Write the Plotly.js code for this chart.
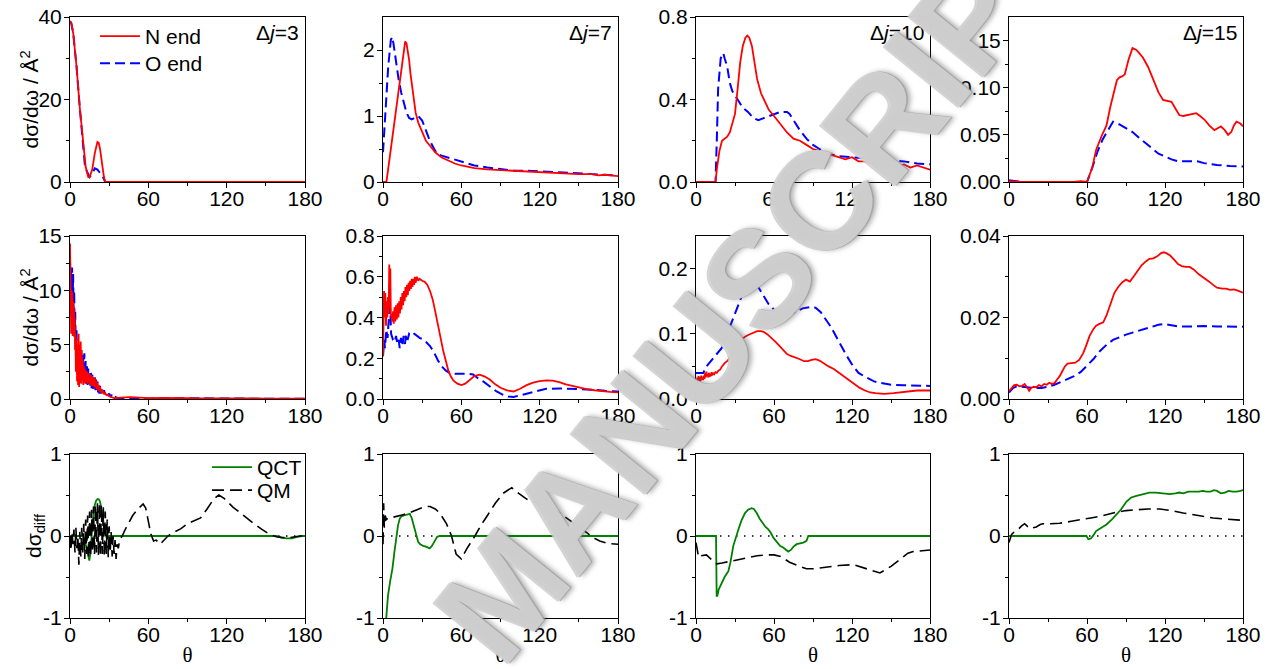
<!DOCTYPE html>
<html><head><meta charset="utf-8">
<script src="https://cdn.plot.ly/plotly-3.0.1.min.js"></script>
<style>body{margin:0;background:#fff}#chart{width:1274px;height:669px}</style>
</head><body><div id="chart"></div>
<script>
// ---------------- DATA ([theta, value] pairs) ----------------
// Row 1: total DCS, N end (red) and O end (blue)
const dj3_top_N = [[0,39],[1,38.5],[2.5,36],[5,28],[7.5,18],[10,9],[12,3.7],[14,1.2],[15,1.2],[17,3],[19,7],[21,9.7],[22,9.5],[23,8],[24,5.5],[25,3],[26,1.2],[27,0],[30,0],[60,0],[90,0],[120,0],[150,0],[180,0]];
const dj3_top_O = [[0,39],[1,38.5],[2.5,36],[5,28],[7.5,18],[10,8.5],[11.5,3.8],[13,2.5],[15,1.2],[17,2],[19,3.3],[21,3],[23,2.3],[25,1.4],[27,0],[30,0],[60,0],[90,0],[120,0],[150,0],[180,0]];
const dj7_top_N = [[0,0],[2.6,0],[5,0.35],[8,0.8],[11,1.25],[14,1.75],[16,2.05],[17,2.13],[18,2.1],[19,2.0],[20,1.85],[21,1.65],[23,1.3],[25,1.05],[27,0.9],[30,0.75],[33,0.62],[36,0.55],[40,0.45],[45,0.37],[50,0.32],[55,0.28],[60,0.25],[70,0.21],[80,0.19],[90,0.18],[100,0.16],[110,0.15],[120,0.15],[130,0.13],[140,0.13],[150,0.12],[160,0.12],[165,0.1],[170,0.11],[175,0.1],[180,0.09]];
const dj7_top_O = [[0,0.45],[2,1.1],[4,1.75],[6,2.15],[7,2.2],[8,2.1],[10,1.8],[12,1.55],[14,1.35],[16,1.2],[18,1.05],[20,0.97],[22,0.95],[24,0.97],[27,1.0],[30,0.93],[33,0.78],[36,0.62],[40,0.47],[42,0.42],[45,0.4],[50,0.37],[60,0.3],[70,0.25],[80,0.22],[90,0.2],[100,0.17],[110,0.17],[120,0.16],[130,0.15],[140,0.14],[150,0.13],[160,0.13],[170,0.12],[175,0.11],[180,0.1]];
const dj10_top_N = [[0,0],[15,0],[16,0.06],[18,0.15],[20,0.2],[22,0.21],[24,0.22],[26,0.24],[28,0.28],[30,0.33],[32,0.45],[34,0.58],[36,0.66],[38,0.7],[39.5,0.71],[41,0.7],[43,0.66],[45,0.58],[47,0.5],[50,0.43],[53,0.39],[56,0.35],[60,0.32],[65,0.28],[70,0.24],[75,0.21],[80,0.2],[85,0.18],[90,0.16],[95,0.15],[100,0.14],[105,0.13],[110,0.12],[115,0.11],[120,0.12],[125,0.1],[130,0.1],[135,0.09],[140,0.09],[145,0.085],[150,0.08],[155,0.075],[160,0.085],[165,0.07],[170,0.08],[175,0.07],[180,0.06]];
const dj10_top_O = [[0,0],[15,0],[16,0.2],[17,0.45],[19,0.6],[21,0.625],[22,0.6],[24,0.56],[26,0.48],[28,0.44],[30,0.42],[33,0.39],[36,0.36],[40,0.34],[44,0.31],[48,0.3],[52,0.31],[56,0.32],[60,0.33],[65,0.34],[70,0.34],[72,0.33],[75,0.3],[80,0.25],[85,0.21],[90,0.18],[95,0.16],[100,0.14],[110,0.125],[120,0.12],[130,0.115],[140,0.11],[150,0.105],[160,0.1],[170,0.09],[180,0.086]];
const dj15_top_N = [[0,0.001],[10,0],[20,0],[30,0],[40,0],[50,0],[55,0.001],[60,0],[64,0.015],[67,0.034],[71,0.048],[75,0.06],[78,0.08],[81,0.098],[83,0.108],[85,0.111],[87,0.112],[89,0.114],[92,0.13],[95,0.142],[98,0.14],[100,0.137],[103,0.132],[107,0.122],[111,0.108],[115,0.095],[118.5,0.087],[122,0.086],[125,0.085],[128,0.078],[131,0.071],[134,0.07],[138,0.071],[141,0.072],[144,0.073],[147,0.07],[150.5,0.066],[154,0.06],[158,0.055],[160.5,0.057],[163,0.059],[166,0.055],[168.5,0.05],[171,0.053],[173,0.06],[175,0.064],[178,0.062],[180,0.059]];
const dj15_top_O = [[0,0.0018],[5,0.001],[10,0],[20,0],[40,0],[60,0],[64,0.015],[68,0.032],[72,0.045],[76,0.055],[80,0.064],[85,0.061],[90,0.057],[95,0.053],[100,0.047],[105,0.041],[110,0.035],[115,0.03],[120,0.027],[125,0.024],[130,0.022],[140,0.022],[145,0.022],[150,0.02],[160,0.018],[170,0.017],[180,0.0165]];

// Row 2: DCS, N end (red) and O end (blue)
const dj3_mid_N = [[0,14.3],[0.3,10],[0.6,9.5],[0.9,6],[1.2,10],[1.5,7],[1.8,9.8],[2.1,5.8],[2.4,9],[2.7,6.5],[3,8.5],[3.3,5.7],[3.6,7.5],[3.9,4.5],[4.2,6],[4.5,2.5],[5,5.5],[5.4,1.6],[5.8,5],[6.2,1.3],[6.6,6],[7,1.1],[7.4,5],[7.8,1.5],[8.2,5.3],[8.6,1.4],[9,4.5],[9.4,1.7],[9.8,3.6],[10.2,1.3],[10.6,3],[11,1.5],[11.4,2.8],[11.8,1.4],[12.2,2.6],[12.6,1.6],[13,2.5],[13.5,1.4],[14,2.4],[14.5,1.5],[15,2.3],[15.5,1.3],[16,2.2],[16.5,1.2],[17,2.1],[17.5,1.2],[18,2.0],[18.5,1.1],[19,1.9],[19.5,1.0],[20,1.7],[20.5,0.9],[21,1.5],[21.5,0.8],[22,1.3],[22.5,0.7],[23,1.1],[23.5,0.6],[24,0.9],[24.5,0.5],[25,0.8],[26,0.5],[27,0.55],[28,0.35],[29,0.4],[30,0.25],[31,0.2],[32,0.15],[34,0.08],[36,0.1],[40,0.15],[45,0.18],[50,0.15],[60,0.08],[70,0.1],[80,0.12],[90,0.08],[100,0.05],[110,0.06],[120,0.08],[130,0.08],[140,0.05],[150,0.04],[160,0.05],[170,0.04],[180,0.04]];
const dj3_mid_O = [[0,13],[0.4,10.5],[0.8,12],[1.2,9],[1.6,12.1],[2,8.5],[2.4,11.5],[2.8,7.5],[3.2,10],[3.6,6],[4,8],[4.5,4],[5,6.5],[5.5,2.8],[6,5],[6.5,2.2],[7,4.5],[7.5,2],[8,4],[8.5,1.8],[9,4],[9.5,1.7],[10,4.1],[10.5,1.6],[11,4.2],[11.5,1.6],[12,3.5],[12.5,1.4],[13,3],[13.5,1.3],[14,2.8],[14.5,1.2],[15,2.6],[15.5,1.1],[16,2.5],[16.5,1.0],[17,2.3],[17.5,0.9],[18,2.1],[18.5,0.9],[19,2.0],[19.5,0.8],[20,1.8],[20.5,0.7],[21,1.6],[21.5,0.6],[22,1.4],[22.5,0.5],[23,1.2],[23.5,0.5],[24,1.0],[25,0.6],[26,0.8],[27,0.4],[28,0.6],[29,0.3],[30,0.5],[31,0.2],[32,0.4],[33,0.15],[34,0.25],[36,0.1],[40,0.05],[50,0.08],[60,0.05],[80,0.08],[100,0.04],[120,0.05],[140,0.03],[160,0.03],[180,0.02]];
const dj7_mid_N = [[0,0.21],[0.5,0.45],[0.8,0.53],[1.3,0.4],[1.8,0.52],[2.3,0.36],[2.8,0.48],[3.3,0.4],[3.8,0.5],[4.3,0.42],[4.8,0.66],[5.2,0.45],[5.6,0.64],[6,0.42],[6.6,0.4],[7.2,0.38],[7.7,0.43],[8.2,0.37],[8.8,0.45],[9.4,0.38],[10,0.46],[10.6,0.39],[11.2,0.47],[11.8,0.4],[12.4,0.48],[13,0.42],[13.6,0.5],[14.2,0.44],[14.8,0.52],[15.4,0.46],[16,0.53],[16.6,0.48],[17.2,0.55],[17.8,0.5],[18.4,0.56],[19,0.51],[19.6,0.57],[20.2,0.53],[20.8,0.58],[21.4,0.54],[22,0.59],[22.6,0.55],[23.2,0.59],[23.8,0.56],[24.4,0.6],[25,0.57],[26,0.6],[27,0.58],[28,0.59],[30,0.58],[32,0.575],[34,0.56],[36,0.53],[38,0.49],[40,0.43],[42,0.36],[44,0.3],[46,0.24],[48,0.19],[50,0.14],[52,0.11],[54,0.09],[57,0.075],[60,0.068],[63,0.075],[66,0.093],[70,0.112],[74,0.119],[78,0.11],[82,0.094],[86,0.072],[90,0.055],[95,0.042],[100,0.037],[105,0.05],[110,0.068],[115,0.08],[120,0.088],[125,0.091],[130,0.09],[135,0.083],[140,0.072],[145,0.064],[150,0.056],[156,0.049],[162,0.043],[168,0.038],[174,0.035],[180,0.033]];
const dj7_mid_O = [[0,0.21],[1,0.29],[1.5,0.25],[2.5,0.34],[3.5,0.3],[5,0.45],[5.6,0.44],[6.2,0.32],[7.7,0.29],[9,0.28],[10,0.31],[11,0.27],[12,0.29],[12.8,0.25],[13.8,0.3],[14.8,0.26],[15.8,0.31],[16.8,0.27],[17.8,0.32],[18.8,0.29],[20,0.32],[22,0.31],[24,0.32],[26,0.31],[28,0.3],[30,0.295],[33,0.28],[36,0.26],[39,0.23],[42,0.19],[45,0.16],[48,0.14],[51,0.128],[55,0.124],[60,0.124],[65,0.124],[69,0.12],[73,0.1],[77,0.085],[82,0.06],[87,0.037],[92,0.02],[96,0.012],[100,0.01],[105,0.018],[110,0.026],[115,0.035],[120,0.043],[125,0.05],[135,0.052],[145,0.051],[151,0.05],[160,0.046],[170,0.04],[180,0.037]];
const dj10_mid_N = [[0,0.03],[0.5,0.02],[1,0.033],[1.5,0.026],[2,0.035],[2.5,0.028],[3,0.033],[3.5,0.027],[4,0.036],[4.5,0.03],[5,0.034],[5.5,0.029],[6,0.036],[6.5,0.031],[7,0.04],[7.5,0.033],[8,0.042],[8.5,0.035],[9,0.038],[9.5,0.033],[10,0.04],[10.5,0.034],[11,0.039],[11.5,0.035],[12,0.041],[12.5,0.036],[13,0.04],[14,0.038],[15,0.041],[16,0.04],[17,0.043],[18.5,0.045],[20,0.05],[22,0.055],[24,0.058],[26,0.063],[28,0.068],[30,0.075],[32,0.082],[34,0.088],[36,0.093],[38,0.096],[41,0.099],[44,0.102],[47,0.104],[50,0.104],[52,0.103],[55,0.099],[58,0.094],[61,0.088],[64,0.082],[67,0.075],[70,0.069],[73,0.066],[76,0.064],[80,0.061],[83,0.058],[86,0.058],[89,0.06],[92,0.061],[95,0.059],[98,0.055],[102,0.05],[106,0.046],[110,0.04],[114,0.034],[118,0.028],[122,0.022],[126,0.017],[130,0.013],[134,0.01],[138,0.009],[145,0.008],[152,0.009],[160,0.011],[170,0.013],[180,0.013]];
const dj10_mid_O = [[0,0.04],[3,0.04],[5.6,0.04],[8,0.05],[10,0.055],[13,0.062],[16,0.07],[19.7,0.078],[22,0.09],[25,0.105],[28,0.122],[31,0.137],[34,0.152],[37,0.167],[41.5,0.182],[43,0.184],[46,0.178],[49,0.168],[52,0.158],[56,0.145],[59.5,0.138],[63,0.133],[67,0.13],[72,0.13],[77,0.134],[82,0.139],[88,0.141],[92,0.14],[96,0.133],[100,0.122],[104,0.11],[108,0.095],[112,0.08],[116,0.066],[120,0.053],[125,0.04],[131,0.033],[137,0.027],[141.5,0.025],[150,0.022],[160,0.021],[170,0.02],[180,0.02]];
const dj15_mid_N = [[0,0.0019],[2,0.0027],[4,0.0034],[6,0.0035],[8,0.0031],[10,0.0032],[12,0.0037],[14,0.0028],[15.5,0.002],[17,0.0027],[19,0.003],[21,0.0029],[23,0.0034],[25,0.0031],[27,0.0037],[29,0.0035],[31,0.004],[33,0.0037],[35,0.0039],[37,0.0048],[39,0.0056],[41,0.0068],[43,0.008],[45,0.0087],[48,0.0088],[51,0.0089],[54,0.0096],[57,0.0112],[59,0.0128],[62,0.0155],[65,0.0172],[67,0.018],[70,0.0185],[72.5,0.0188],[75,0.0205],[78,0.0232],[81,0.026],[84,0.0275],[87,0.0286],[90,0.0293],[93,0.0288],[96,0.0301],[99,0.0315],[102,0.0328],[105,0.0337],[108,0.0344],[111,0.0345],[114,0.035],[117,0.0358],[119,0.036],[121,0.0358],[124,0.0352],[127,0.0342],[130,0.0331],[133,0.0326],[136,0.0324],[139,0.0324],[142,0.0318],[146,0.0306],[150,0.0298],[154,0.0288],[157,0.028],[160,0.0273],[164,0.0271],[167,0.0271],[170,0.0268],[173,0.0269],[176,0.0266],[180,0.0261]];
const dj15_mid_O = [[0,0.0016],[3,0.0027],[6,0.0031],[10,0.003],[15,0.0027],[20,0.0027],[25,0.0027],[30,0.003],[35,0.0035],[40,0.0042],[45,0.0049],[50,0.0056],[55,0.0066],[60,0.0082],[65,0.0098],[70,0.0118],[75,0.0133],[80,0.0145],[85,0.0152],[90,0.0158],[95,0.0163],[100,0.0168],[105,0.0173],[110,0.0178],[115,0.0182],[120,0.0184],[125,0.0181],[130,0.0178],[140,0.0178],[150,0.0179],[160,0.0178],[170,0.0177],[180,0.0177]];

// Row 3: dσ_diff, QCT (green) and QM (black dashed)
const dj3_diff_QCT = [[0,0],[10,0],[11,-0.03],[12,-0.1],[13,-0.2],[14,-0.28],[14.8,-0.3],[15.5,-0.22],[16.3,-0.05],[17,0.12],[18,0.28],[19,0.38],[20,0.43],[21,0.45],[22,0.45],[23,0.42],[24,0.35],[25,0.25],[26,0.12],[27,0.03],[28,-0.02],[29,-0.03],[30,0],[60,0],[90,0],[120,0],[150,0],[158,0],[162,-0.02],[166,-0.03],[170,-0.03],[174,-0.01],[178,0],[180,0]];
const dj3_diff_QM = [[0,0],[0.7,-0.18],[1.5,0.05],[2.3,-0.1],[3,0.08],[3.8,-0.2],[4.5,0.1],[5.3,-0.15],[6,0],[6.8,-0.35],[7.5,0.05],[8.3,-0.25],[9,0.1],[9.8,-0.2],[10.5,0.15],[11.3,-0.28],[12,0.2],[12.8,-0.22],[13.5,0.25],[14.3,-0.27],[15,0.3],[15.8,-0.25],[16.5,0.32],[17.3,-0.2],[18,0.36],[18.8,-0.22],[19.5,0.38],[20.3,-0.2],[21,0.4],[21.8,-0.23],[22.5,0.4],[23.3,-0.25],[24,0.38],[24.8,-0.22],[25.5,0.35],[26.3,-0.25],[27,0.3],[27.8,-0.22],[28.5,0.2],[29.3,-0.26],[30,0.12],[30.8,-0.2],[31.5,0.05],[32.3,-0.25],[33,0.0],[33.8,-0.22],[34.5,-0.05],[35.3,-0.28],[36,-0.1],[37,-0.15],[38,-0.05],[40,0],[42,0.07],[45,0.17],[48,0.25],[52,0.33],[56,0.39],[58,0.34],[60,0.2],[62,0.02],[64,-0.06],[66,-0.05],[69,-0.1],[72,-0.05],[75,0],[80,0.05],[85,0.09],[90,0.15],[95,0.19],[100,0.22],[105,0.33],[110,0.45],[114,0.5],[118,0.46],[125,0.35],[132,0.26],[140,0.16],[147,0.08],[153,0.02],[158,-0.01],[163,-0.02],[168,-0.02],[172,-0.01],[176,0],[180,0]];
const dj7_diff_QCT = [[2,-1.1],[2.6,-1],[3.8,-0.73],[5.5,-0.55],[7.2,-0.4],[8.7,-0.2],[10.2,0],[11.5,0.13],[12.8,0.21],[14,0.24],[16,0.25],[18,0.26],[20.5,0.27],[22,0.22],[23.5,0.12],[25,0.02],[26.9,-0.07],[28.5,-0.1],[30.7,-0.12],[33,-0.13],[35.8,-0.15],[37.5,-0.12],[39.7,-0.05],[41.5,-0.01],[43.5,0],[60,0],[90,0],[120,0],[150,0],[180,0]];
const dj7_diff_QM = [[0,-0.1],[0.5,0.4],[1,0.1],[1.7,0.25],[2.6,0.2],[4,0.22],[8,0.23],[12,0.25],[15.4,0.26],[20,0.28],[24,0.31],[28,0.34],[32,0.36],[36,0.36],[40,0.33],[43.5,0.28],[46,0.22],[48.6,0.15],[52.5,0],[56,-0.22],[60,-0.28],[64,-0.16],[70.4,0],[75,0.13],[80,0.25],[86,0.4],[92,0.52],[98.6,0.59],[104,0.52],[110,0.45],[120,0.39],[130.6,0.33],[138,0.25],[146,0.16],[151,0.1],[156,0.04],[161,-0.02],[166,-0.06],[172,-0.09],[180,-0.1]];
const dj10_diff_QCT = [[0,0],[15.4,0],[15.9,-0.73],[16.4,-0.73],[17.5,-0.65],[19.7,-0.57],[22,-0.5],[24.9,-0.43],[26.5,-0.32],[28.7,-0.12],[30.5,-0.02],[32.6,0.08],[35,0.19],[37.7,0.28],[40,0.32],[42.8,0.34],[44.5,0.33],[46.7,0.28],[49,0.21],[51.8,0.14],[53.5,0.11],[55.6,0.08],[57.5,0.04],[59.5,-0.02],[62,-0.07],[64.6,-0.12],[67,-0.14],[69,-0.17],[71,-0.19],[73,-0.17],[75,-0.13],[77.4,-0.1],[80,-0.09],[82.6,-0.08],[85,-0.06],[86,-0.02],[86.4,0],[90,0],[120,0],[150,0],[180,0]];
const dj10_diff_QM = [[0,-0.08],[1,-0.2],[2,-0.26],[4,-0.24],[8,-0.23],[12,-0.29],[16,-0.34],[20,-0.33],[30,-0.3],[40,-0.27],[47,-0.24],[55,-0.23],[60,-0.23],[65,-0.25],[72,-0.32],[78,-0.36],[85,-0.4],[90,-0.4],[100,-0.38],[110,-0.36],[121,-0.35],[130,-0.39],[141.5,-0.45],[150,-0.37],[157,-0.28],[163,-0.21],[167,-0.19],[175,-0.175],[180,-0.17]];
const dj15_diff_QCT = [[0,0],[30,0],[59.6,0],[61,-0.04],[63,-0.03],[65,0.01],[67,0.06],[71,0.1],[75,0.14],[79,0.2],[82.7,0.26],[86,0.32],[90.4,0.42],[94,0.47],[98,0.49],[103,0.51],[108,0.53],[113,0.53],[118.5,0.52],[123.7,0.51],[128,0.52],[131,0.53],[134,0.52],[138,0.54],[142,0.54],[146,0.54],[149,0.55],[152,0.54],[155,0.54],[157.5,0.56],[160,0.55],[163,0.52],[166,0.53],[169,0.55],[172,0.54],[175,0.54],[178,0.55],[180,0.56]];
const dj15_diff_QM = [[0,-0.08],[1,-0.02],[2,0.02],[4,0.05],[7,0.08],[9.5,0.12],[12,0.15],[14,0.12],[16,0.09],[18,0.1],[21,0.11],[24,0.14],[26,0.15],[32,0.15],[39,0.155],[48,0.18],[57,0.2],[63,0.22],[70,0.24],[76,0.265],[82.7,0.29],[90,0.31],[98,0.32],[107,0.33],[116,0.33],[125,0.31],[134,0.28],[141,0.26],[149,0.24],[157,0.22],[164.6,0.21],[172,0.2],[180,0.19]];
const zeroRef = [[0,0],[180,0]];

// Axis ticks / labels
const thetaTicks = [0,60,120,180];
const thetaMinor = [30,90,150];
const panelLabels = ['Δ<i>j</i>=3','Δ<i>j</i>=7','Δ<i>j</i>=10','Δ<i>j</i>=15'];
const yTitles = ['dσ/dω / Å<sup>2</sup>','dσ/dω / Å<sup>2</sup>','dσ<sub>diff</sub>'];
const yTicks = [
  [[0,20,40],['0','20','40'],[10,30],[0,40]],
  [[0,1,2],['0','1','2'],[0.5,1.5],[0,2.5]],
  [[0,0.4,0.8],['0.0','0.4','0.8'],[0.2,0.6],[0,0.8]],
  [[0,0.05,0.1,0.15],['0.00','0.05','0.10','0.15'],[0.025,0.075,0.125],[0,0.175]],
  [[0,5,10,15],['0','5','10','15'],[2.5,7.5,12.5],[0,15]],
  [[0,0.2,0.4,0.6,0.8],['0.0','0.2','0.4','0.6','0.8'],[0.1,0.3,0.5,0.7],[0,0.8]],
  [[0,0.1,0.2],['0.0','0.1','0.2'],[0.05,0.15],[0,0.25]],
  [[0,0.02,0.04],['0.00','0.02','0.04'],[0.01,0.03],[0,0.04]],
  [[-1,0,1],['-1','0','1'],[-0.5,0.5],[-1,1]],
  [[-1,0,1],['-1','0','1'],[-0.5,0.5],[-1,1]],
  [[-1,0,1],['-1','0','1'],[-0.5,0.5],[-1,1]],
  [[-1,0,1],['-1','0','1'],[-0.5,0.5],[-1,1]]
];

// ---------------- FIGURE ----------------
const W = 1274, H = 669;
const colPx = [[70,305],[383,618],[696,930],[1009,1243]];
const rowPx = [[17,182],[236,399],[454,618]];
const FONT = 'Liberation Sans, Arial, sans-serif';
const FS = 21;

const topN = [dj3_top_N, dj7_top_N, dj10_top_N, dj15_top_N];
const topO = [dj3_top_O, dj7_top_O, dj10_top_O, dj15_top_O];
const midN = [dj3_mid_N, dj7_mid_N, dj10_mid_N, dj15_mid_N];
const midO = [dj3_mid_O, dj7_mid_O, dj10_mid_O, dj15_mid_O];
const diffQCT = [dj3_diff_QCT, dj7_diff_QCT, dj10_diff_QCT, dj15_diff_QCT];
const diffQM = [dj3_diff_QM, dj7_diff_QM, dj10_diff_QM, dj15_diff_QM];

const RED = {color:'#ff0000', width:1.8};
const BLUE = {color:'#0000ff', width:2, dash:'10px,5px'};
const GREEN = {color:'#008000', width:1.8};
const BLACK = {color:'#000000', width:1.6, dash:'12px,6px'};
const DOT = {color:'#000000', width:1.5, dash:'1.5px,6.5px'};

const traces = [];
function add(pairs, line, n, opts) {
  traces.push(Object.assign({
    type:'scatter', mode:'lines',
    x: pairs.map(p=>p[0]), y: pairs.map(p=>p[1]),
    line: line, xaxis: 'x'+(n===1?'':n), yaxis: 'y'+(n===1?'':n),
    showlegend:false, hoverinfo:'skip'
  }, opts||{}));
}

function legendAt(textLeftPx, centerYPx) {
  return {x:(textLeftPx-50)/W, y:1-(centerYPx-21)/H, xanchor:'left', yanchor:'top',
          bgcolor:'rgba(0,0,0,0)', borderwidth:0, itemwidth:40,
          font:{family:FONT,size:FS,color:'#000'}};
}

const layout = {
  width: W, height: H, margin:{l:0,r:0,t:0,b:0},
  paper_bgcolor:'#fff', plot_bgcolor:'#fff',
  font:{family:FONT, size:FS, color:'#000'},
  showlegend:true,
  legend: legendAt(145, 37),
  legend2: legendAt(145, 64),
  legend3: legendAt(257, 468),
  legend4: legendAt(257, 491),
  annotations:[], shapes:[]
};

for (let r=0;r<3;r++){
  for (let c=0;c<4;c++){
    const n = r*4+c+1;
    const xs = n===1?'':n;
    const yt = yTicks[n-1];
    const xa = {
      domain:[colPx[c][0]/W, colPx[c][1]/W], anchor:'y'+xs, range:[0,180],
      tickmode:'array', tickvals:thetaTicks, ticktext:thetaTicks.map(String),
      ticks:'outside', ticklen:5, tickwidth:1, tickcolor:'#000', ticklabelstandoff:-7,
      minor:{tickmode:'array', tickvals:thetaMinor, ticks:'outside', ticklen:3, tickwidth:1, tickcolor:'#000'},
      showline:true, linecolor:'#000', linewidth:1, mirror:true,
      showgrid:false, zeroline:false, automargin:false,
      tickfont:{family:FONT,size:FS,color:'#000'}
    };
    if (r===2) xa.title = {text:'θ', font:{family:'Liberation Serif, Times New Roman, serif', size:FS, color:'#000'}, standoff:2};
    const ya = {
      domain:[1-rowPx[r][1]/H, 1-rowPx[r][0]/H], anchor:'x'+xs, range:yt[3],
      tickmode:'array', tickvals:yt[0], ticktext:yt[1],
      ticks:'outside', ticklen:5, tickwidth:1, tickcolor:'#000', ticklabelstandoff:-2,
      minor:{tickmode:'array', tickvals:yt[2], ticks:'outside', ticklen:3, tickwidth:1, tickcolor:'#000'},
      showline:true, linecolor:'#000', linewidth:1, mirror:true,
      showgrid:false, zeroline:false, automargin:false,
      tickfont:{family:FONT,size:FS,color:'#000'}
    };
    layout['xaxis'+xs] = xa;
    layout['yaxis'+xs] = ya;

    if (c===0) {
      layout.annotations.push({text:yTitles[r], xref:'paper', yref:'paper',
        x:(r===2?35:29)/W, y:1-((rowPx[r][0]+rowPx[r][1])/2)/H, xanchor:'center', yanchor:'middle',
        textangle:-90, showarrow:false, font:{family:FONT,size:FS,color:'#000'}});
    }

    if (r===0) {
      add(topO[c], BLUE, n, c===0?{name:'O end', showlegend:true, legend:'legend2'}:{});
      add(topN[c], RED, n, c===0?{name:'N end', showlegend:true, legend:'legend'}:{});
      layout.annotations.push({text:panelLabels[c], xref:'x'+xs+' domain', yref:'y'+xs+' domain',
        x:0.985, y:0.985, xanchor:'right', yanchor:'top', showarrow:false,
        font:{family:FONT,size:FS,color:'#000'}});
    } else if (r===1) {
      add(midO[c], BLUE, n);
      add(midN[c], RED, n);
    } else {
      add(zeroRef, DOT, n);
      add(diffQCT[c], GREEN, n, c===0?{name:'QCT', showlegend:true, legend:'legend3'}:{});
      add(diffQM[c], BLACK, n, c===0?{name:'QM', showlegend:true, legend:'legend4'}:{});
    }
  }
}

// "MANUSCRIPT" watermark
layout.annotations.push({text:'MANUSCRIPT', xref:'paper', yref:'paper', x:758/W, y:1-278/H,
  xanchor:'center', yanchor:'middle', textangle:-51, showarrow:false,
  font:{family:FONT, size:140, weight:'bold', color:'rgba(215,215,215,0.8)',
        shadow:'1px 1px 0 #a0a0a0, -1px -1px 0 #c8c8c8, 3px 3px 5px rgba(80,80,80,0.55)'}});

Plotly.newPlot('chart', traces, layout, {displayModeBar:false, staticPlot:true});
</script></body></html>
